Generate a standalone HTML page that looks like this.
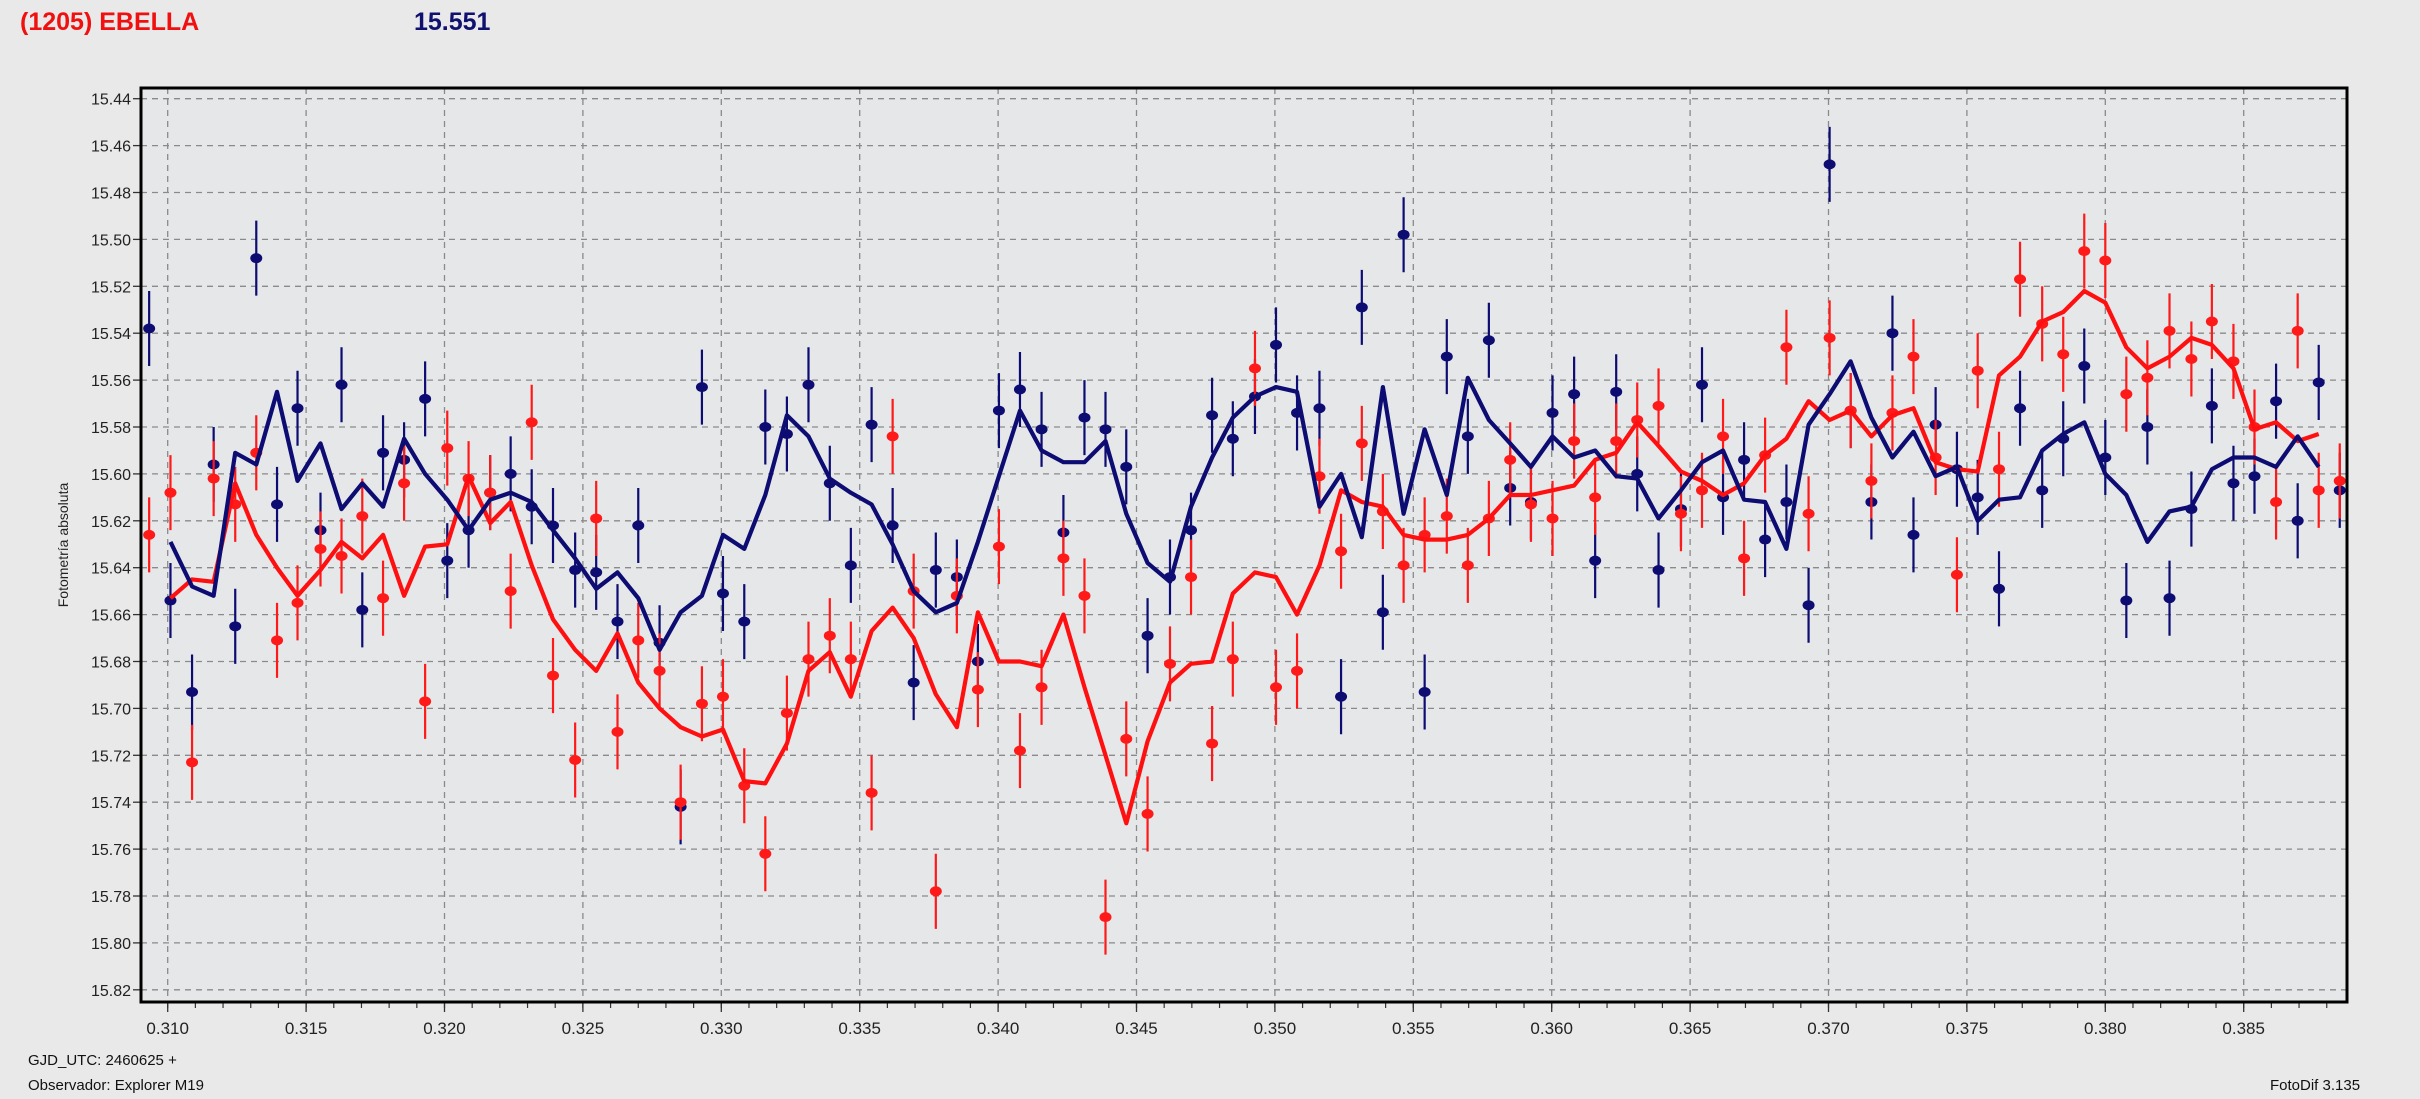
<!DOCTYPE html>
<html><head><meta charset="utf-8"><style>
html,body{margin:0;padding:0;background:#e9e9e9;}
body{width:2420px;height:1099px;overflow:hidden;position:relative;font-family:"Liberation Sans",sans-serif;}
.t{position:absolute;white-space:nowrap;}
</style></head><body>
<div class="t" style="left:20px;top:8px;font-size:25px;font-weight:bold;color:#f01010;">(1205) EBELLA</div>
<div class="t" style="left:414px;top:8px;font-size:25px;font-weight:bold;color:#10106e;">15.551</div>
<div class="t" style="left:28px;top:1052px;font-size:15px;color:#111;">GJD_UTC: 2460625 +</div>
<div class="t" style="left:28px;top:1077px;font-size:15px;color:#111;">Observador: Explorer M19</div>
<div class="t" style="left:2270px;top:1077px;font-size:15px;color:#111;">FotoDif 3.135</div>
<svg id="chart" width="2420" height="1099" style="position:absolute;left:0;top:0;"></svg>
<script>
const times=[0.30933,0.31010,0.31088,0.31166,0.31244,0.31320,0.31395,0.31469,0.31552,0.31628,0.31703,0.31778,0.31854,0.31930,0.32010,0.32087,0.32165,0.32239,0.32315,0.32392,0.32472,0.32548,0.32625,0.32700,0.32777,
0.32853,0.32930,0.33006,0.33083,0.33159,0.33237,0.33315,0.33392,0.33468,0.33543,0.33619,0.33695,0.33775,0.33851,0.33927,0.34003,0.34079,0.34157,0.34236,0.34312,0.34388,0.34463,0.34540,0.34621,0.34697,0.34773,0.34848,
0.34928,0.35004,0.35080,0.35161,0.35239,0.35314,0.35390,0.35465,0.35541,0.35621,0.35697,0.35773,0.35850,0.35925,0.36003,0.36081,0.36157,0.36233,0.36309,0.36386,0.36467,0.36543,0.36619,0.36695,0.36771,
0.36848,0.36928,0.37004,0.37080,0.37155,0.37231,0.37307,0.37387,0.37464,0.37539,0.37616,0.37692,0.37772,0.37848,0.37924,0.38000,0.38076,0.38152,0.38232,0.38311,0.38385,0.38463,0.38539,0.38617,0.38695,0.38771,0.38847];
const redMag=[15.626,15.608,15.723,15.602,15.613,15.591,15.671,15.655,15.632,15.635,15.618,15.653,15.604,15.697,15.589,15.602,15.608,15.650,15.578,15.686,15.722,15.619,15.710,15.671,15.684,
15.740,15.698,15.695,15.733,15.762,15.702,15.679,15.669,15.679,15.736,15.584,15.650,15.778,15.652,15.692,15.631,15.718,15.691,15.636,15.652,15.789,15.713,15.745,15.681,15.644,15.715,15.679,
15.555,15.691,15.684,15.601,15.633,15.587,15.616,15.639,15.626,15.618,15.639,15.619,15.594,15.613,15.619,15.586,15.610,15.586,15.577,15.571,15.617,15.607,15.584,15.636,15.592,
15.546,15.617,15.542,15.573,15.603,15.574,15.550,15.593,15.643,15.556,15.598,15.517,15.536,15.549,15.505,15.509,15.566,15.559,15.539,15.551,15.535,15.552,15.580,15.612,15.539,15.607,15.603];
const blueMag=[15.538,15.654,15.693,15.596,15.665,15.508,15.613,15.572,15.624,15.562,15.658,15.591,15.594,15.568,15.637,15.624,15.608,15.600,15.614,15.622,15.641,15.642,15.663,15.622,15.672,
15.742,15.563,15.651,15.663,15.580,15.583,15.562,15.604,15.639,15.579,15.622,15.689,15.641,15.644,15.680,15.573,15.564,15.581,15.625,15.576,15.581,15.597,15.669,15.644,15.624,15.575,15.585,
15.567,15.545,15.574,15.572,15.695,15.529,15.659,15.498,15.693,15.550,15.584,15.543,15.606,15.612,15.574,15.566,15.637,15.565,15.600,15.641,15.615,15.562,15.610,15.594,15.628,
15.612,15.656,15.468,15.573,15.612,15.540,15.626,15.579,15.598,15.610,15.649,15.572,15.607,15.585,15.554,15.593,15.654,15.580,15.653,15.615,15.571,15.604,15.601,15.569,15.620,15.561,15.607];
const redLine=[15.653,15.645,15.646,15.604,15.626,15.640,15.652,15.641,15.629,15.636,15.626,15.652,15.631,15.630,15.601,15.621,15.612,15.639,15.662,15.675,15.684,15.668,15.689,15.700,
15.708,15.712,15.709,15.731,15.732,15.715,15.684,15.676,15.695,15.667,15.657,15.670,15.694,15.708,15.659,15.680,15.680,15.682,15.660,15.691,15.720,15.749,15.714,15.689,15.681,15.680,15.651,
15.642,15.644,15.660,15.639,15.607,15.612,15.614,15.626,15.628,15.628,15.626,15.619,15.609,15.609,15.607,15.605,15.594,15.591,15.578,15.588,15.599,15.603,15.609,15.604,15.592,
15.585,15.569,15.577,15.573,15.584,15.575,15.572,15.595,15.598,15.599,15.558,15.550,15.535,15.531,15.522,15.527,15.546,15.555,15.550,15.542,15.545,15.555,15.581,15.578,15.586,15.583];
const blueLine=[15.629,15.648,15.652,15.591,15.596,15.565,15.603,15.587,15.615,15.604,15.614,15.585,15.600,15.611,15.624,15.611,15.608,15.612,15.624,15.636,15.649,15.642,15.653,15.675,
15.659,15.652,15.626,15.632,15.609,15.575,15.584,15.602,15.608,15.613,15.630,15.650,15.659,15.655,15.629,15.601,15.573,15.590,15.595,15.595,15.586,15.617,15.638,15.646,15.614,15.593,15.576,
15.567,15.563,15.565,15.614,15.600,15.627,15.563,15.617,15.581,15.609,15.559,15.577,15.587,15.597,15.584,15.593,15.590,15.601,15.602,15.619,15.607,15.595,15.590,15.611,15.612,
15.632,15.579,15.566,15.552,15.576,15.593,15.582,15.601,15.597,15.620,15.611,15.610,15.590,15.583,15.578,15.600,15.609,15.629,15.616,15.614,15.598,15.593,15.593,15.597,15.584,15.597];
const lineStart=1;
const yTicks=["15.44","15.46","15.48","15.50","15.52","15.54","15.56","15.58","15.60","15.62","15.64","15.66","15.68","15.70","15.72","15.74","15.76","15.78","15.80","15.82"];
const xTicks=["0.310","0.315","0.320","0.325","0.330","0.335","0.340","0.345","0.350","0.355","0.360","0.365","0.370","0.375","0.380","0.385"];
const errMag=0.016;

const L=141,T=88,R=2347,B=1002;
function sx(t){return 167.7+(t-0.310)*27680;}
function sy(m){return 98.7+(m-15.44)*2345;}
const NS="http://www.w3.org/2000/svg";
const svg=document.getElementById('chart');
function mk(tag,attrs,parent){const e=document.createElementNS(NS,tag);for(const k in attrs)e.setAttribute(k,attrs[k]);(parent||svg).appendChild(e);return e;}

const bg=mk('rect',{x:L,y:T,width:R-L,height:B-T,fill:'#e6e7e9'});



const grid=mk('g',{});


yTicks.forEach(v=>{const y=sy(parseFloat(v));
 mk('line',{x1:L,x2:R,y1:y,y2:y,stroke:'#8a8a8a','stroke-width':1.3,'stroke-dasharray':'6,5'},grid);
 mk('line',{x1:L-8,x2:L,y1:y,y2:y,stroke:'#333','stroke-width':1.3},grid);
 const tx=mk('text',{x:L-10,y:y+6,'text-anchor':'end','font-size':16,fill:'#222','font-family':'Liberation Sans, sans-serif'});
 tx.textContent=v;
 
 
});
xTicks.forEach(v=>{const x=sx(parseFloat(v));
 mk('line',{x1:x,x2:x,y1:T,y2:B,stroke:'#8a8a8a','stroke-width':1.3,'stroke-dasharray':'6,5'},grid);
 mk('line',{x1:x,x2:x,y1:B,y2:B+10,stroke:'#333','stroke-width':1.3},grid);
 const tx=mk('text',{x:x,y:B+32,'text-anchor':'middle','font-size':17,fill:'#222','font-family':'Liberation Sans, sans-serif'});
 tx.textContent=v;
 
 
});
for(let i=0;i<80;i++){const t=0.309+i*0.001;const x=sx(t);if(x<L||x>R)continue;
 mk('line',{x1:x,x2:x,y1:B,y2:B+6,stroke:'#333','stroke-width':1.2},grid);}

const yt=mk('text',{x:0,y:0,transform:'translate(68,545) rotate(-90)','text-anchor':'middle','font-size':14,fill:'#222','font-family':'Liberation Sans, sans-serif'});
yt.textContent='Fotometría absoluta';



function drawSeries(vals,color,name){
 const g=mk('g',{});
 
 
 vals.forEach((v,i)=>{const x=sx(times[i]),y=sy(v);
  const eb=mk('line',{x1:x,x2:x,y1:sy(v-errMag),y2:sy(v+errMag),stroke:color,'stroke-width':2.2},g);
  
  
  const c=mk('ellipse',{cx:x,cy:y,rx:6,ry:5,fill:color},g);
  
  
 });
}
function drawLine(vals,color,name){
 const pts=vals.map((v,i)=>sx(times[i+lineStart]).toFixed(1)+','+sy(v).toFixed(1)).join(' ');
 const p=mk('polyline',{points:pts,fill:'none',stroke:color,'stroke-width':4.2,'stroke-linejoin':'round'});
 
 
}
drawSeries(blueMag,'#0c0c72','comparison-star');
drawSeries(redMag,'#ff1a1a','asteroid');
drawLine(redLine,'#ff1010','asteroid-smoothed-line');
drawLine(blueLine,'#0c0c72','comparison-smoothed-line');

const fr=mk('rect',{x:L,y:T,width:R-L,height:B-T,fill:'none',stroke:'#000','stroke-width':3});


</script>
</body></html>
